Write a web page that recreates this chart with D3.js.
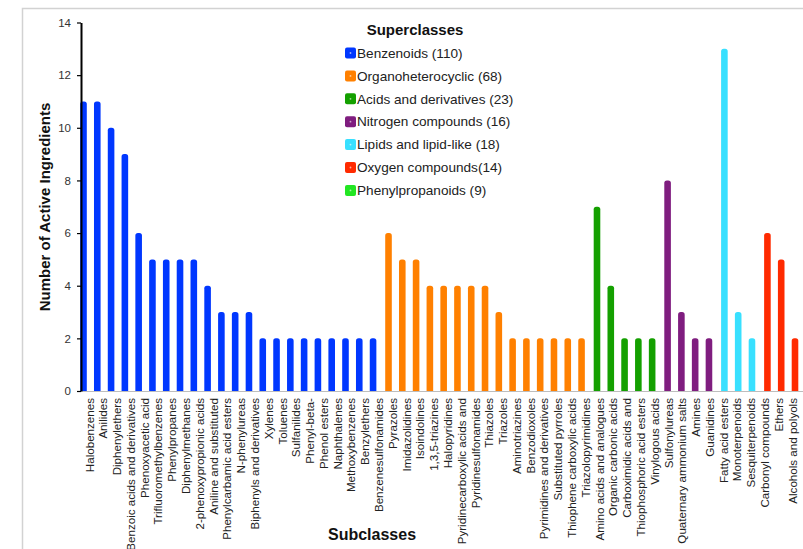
<!DOCTYPE html>
<html><head><meta charset="utf-8">
<script src="https://cdn.jsdelivr.net/npm/d3@7"></script>
<style>
body{margin:0;background:#fff}
svg{display:block;font-family:"Liberation Sans",Arial,sans-serif}
</style>
</head><body>
<svg id="c" width="803" height="549"></svg>
<script>
const subclasses = [
  "Halobenzenes","Anilides","Diphenylethers","Benzoic acids and derivatives","Phenoxyacetic acid",
  "Trifluoromethylbenzenes","Phenylpropanes","Diphenylmethanes","2-phenoxypropionic acids","Aniline and substituted",
  "Phenylcarbamic acid esters","N-phenylureas","Biphenyls and derivatives","Xylenes","Toluenes",
  "Sulfanilides","Phenyl-beta-","Phenol esters","Naphthalenes","Methoxybenzenes","Benzylethers","Benzenesulfonamides",
  "Pyrazoles","Imidazolidines","Isoindolines","1,3,5-triazines","Halopyridines",
  "Pyridinecarboxylic acids and","Pyridinesulfonamides","Thiazoles","Triazoles","Aminotriazines",
  "Benzodioxoles","Pyrimidines and derivatives","Substituted pyrroles","Thiophene carboxylic acids","Triazolopyrimidines",
  "Amino acids and analogues","Organic carbonic acids","Carboximidic acids and","Thiophosphoric acid esters","Vinylogous acids",
  "Sulfonylureas","Quaternary ammonium salts","Amines","Guanidines",
  "Fatty acid esters","Monoterpenoids","Sesquiterpenoids",
  "Carbonyl compounds","Ethers","Alcohols and polyols"
];
const counts = [
  11,11,10,9,6,5,5,5,5,4,3,3,3,2,2,2,2,2,2,2,2,2,
  6,5,5,4,4,4,4,4,3,2,2,2,2,2,2,
  7,4,2,2,2,
  8,3,2,2,
  13,3,2,
  6,5,2
];
const superclassOf = [
  "Benzenoids","Benzenoids","Benzenoids","Benzenoids","Benzenoids","Benzenoids","Benzenoids","Benzenoids","Benzenoids","Benzenoids","Benzenoids",
  "Benzenoids","Benzenoids","Benzenoids","Benzenoids","Benzenoids","Benzenoids","Benzenoids","Benzenoids","Benzenoids","Benzenoids","Benzenoids",
  "Organoheterocyclic","Organoheterocyclic","Organoheterocyclic","Organoheterocyclic","Organoheterocyclic","Organoheterocyclic","Organoheterocyclic","Organoheterocyclic",
  "Organoheterocyclic","Organoheterocyclic","Organoheterocyclic","Organoheterocyclic","Organoheterocyclic","Organoheterocyclic","Organoheterocyclic",
  "Acids and derivatives","Acids and derivatives","Acids and derivatives","Acids and derivatives","Acids and derivatives",
  "Nitrogen compounds","Nitrogen compounds","Nitrogen compounds","Nitrogen compounds",
  "Lipids and lipid-like","Lipids and lipid-like","Lipids and lipid-like",
  "Oxygen compounds","Oxygen compounds","Oxygen compounds"
];
const superclasses = ["Benzenoids","Organoheterocyclic","Acids and derivatives","Nitrogen compounds","Lipids and lipid-like","Oxygen compounds","Phenylpropanoids"];
const legendLabels = ["Benzenoids (110)","Organoheterocyclic (68)","Acids and derivatives (23)","Nitrogen compounds (16)","Lipids and lipid-like (18)","Oxygen compounds(14)","Phenylpropanoids (9)"];
const palette = ["#0037ff","#ff8000","#14a000","#7f1d7f","#38e0ff","#ff2a00","#22e622"];
const yTicks = [0,2,4,6,8,10,12,14];

const svg = d3.select("#c");
const color = d3.scaleOrdinal().domain(superclasses).range(palette);

// frame
svg.append("path").attr("d","M22.5,549V8.5H803").attr("fill","none")
  .attr("stroke","#d2d2d2").attr("stroke-width",1.5);

const y = d3.scaleLinear().domain([0,14]).range([391,22.5]);
const gap = 0.12;
const slot = subclasses.map((d,i)=> i + superclasses.indexOf(superclassOf[i])*gap);
const x = d3.scaleLinear().domain([0, d3.max(slot)]).range([83.5, 795]);
const xLab = d3.scalePoint().domain(subclasses).range([89, 792]);

// x baseline
svg.append("line").attr("x1",81).attr("x2",803).attr("y1",391.5).attr("y2",391.5)
  .attr("stroke","#bdbdbd").attr("stroke-width",1);

// bars
function barPath(cx, top, bottom, w, r){
  const x0=cx-w/2, x1=cx+w/2; r=Math.min(r,bottom-top);
  return `M${x0},${bottom}V${top+r}Q${x0},${top} ${x0+r},${top}H${x1-r}Q${x1},${top} ${x1},${top+r}V${bottom}Z`;
}
svg.append("g").selectAll("path").data(counts).join("path")
  .attr("d",(d,i)=>barPath(x(slot[i]), y(d), y(0), 6.6, 2.6))
  .attr("fill",(d,i)=>color(superclassOf[i]));

// y axis
const ya = svg.append("g").attr("transform","translate(81,0)")
  .call(d3.axisLeft(y).tickValues(yTicks).tickSize(4).tickSizeOuter(0).tickPadding(6));
ya.select(".domain").attr("stroke","#000").attr("stroke-width",2);
ya.selectAll(".tick line").attr("stroke","#000").attr("stroke-width",1.2);
ya.selectAll("text").attr("font-size",11.5).attr("fill","#333").attr("font-family","Liberation Sans, Arial, sans-serif");

// x labels
const xa = svg.append("g").attr("transform","translate(0,398)")
  .call(d3.axisBottom(xLab).tickSize(0).tickPadding(0));
xa.select(".domain").remove();
xa.selectAll("text")
  .attr("x",0).attr("y",0).attr("dy","0.35em")
  .attr("transform","rotate(-90)")
  .attr("text-anchor","end")
  .attr("font-size",11.6).attr("fill","#222")
  .attr("font-family","Liberation Sans, Arial, sans-serif");

// axis titles
svg.append("text").attr("transform","translate(45,207) rotate(-90)")
  .attr("text-anchor","middle").attr("dy","0.35em")
  .attr("font-size",15).attr("font-weight","bold").attr("fill","#111")
  .text("Number of Active Ingredients");
svg.append("text").attr("x",372).attr("y",540).attr("text-anchor","middle")
  .attr("font-size",16).attr("font-weight","bold").attr("fill","#111")
  .text("Subclasses");

// legend
const lg = svg.append("g");
lg.append("text").attr("x",415).attr("y",35).attr("text-anchor","middle")
  .attr("font-size",15).attr("font-weight","bold").attr("fill","#111").text("Superclasses");
const items = lg.selectAll("g.item").data(superclasses).join("g").attr("class","item")
  .attr("transform",(d,i)=>`translate(0,${53+i*22.9})`);
items.append("rect").attr("x",345).attr("y",-5.5).attr("width",11).attr("height",11)
  .attr("rx",2).attr("fill",d=>color(d));
items.append("circle").attr("cx",350.5).attr("cy",0).attr("r",0.9).attr("fill","#fff").attr("opacity",0.6);
items.append("text").attr("x",357).attr("y",0).attr("dy","0.35em")
  .attr("font-size",13.6).attr("fill","#222").text((d,i)=>legendLabels[i]);
</script>
</body></html>
